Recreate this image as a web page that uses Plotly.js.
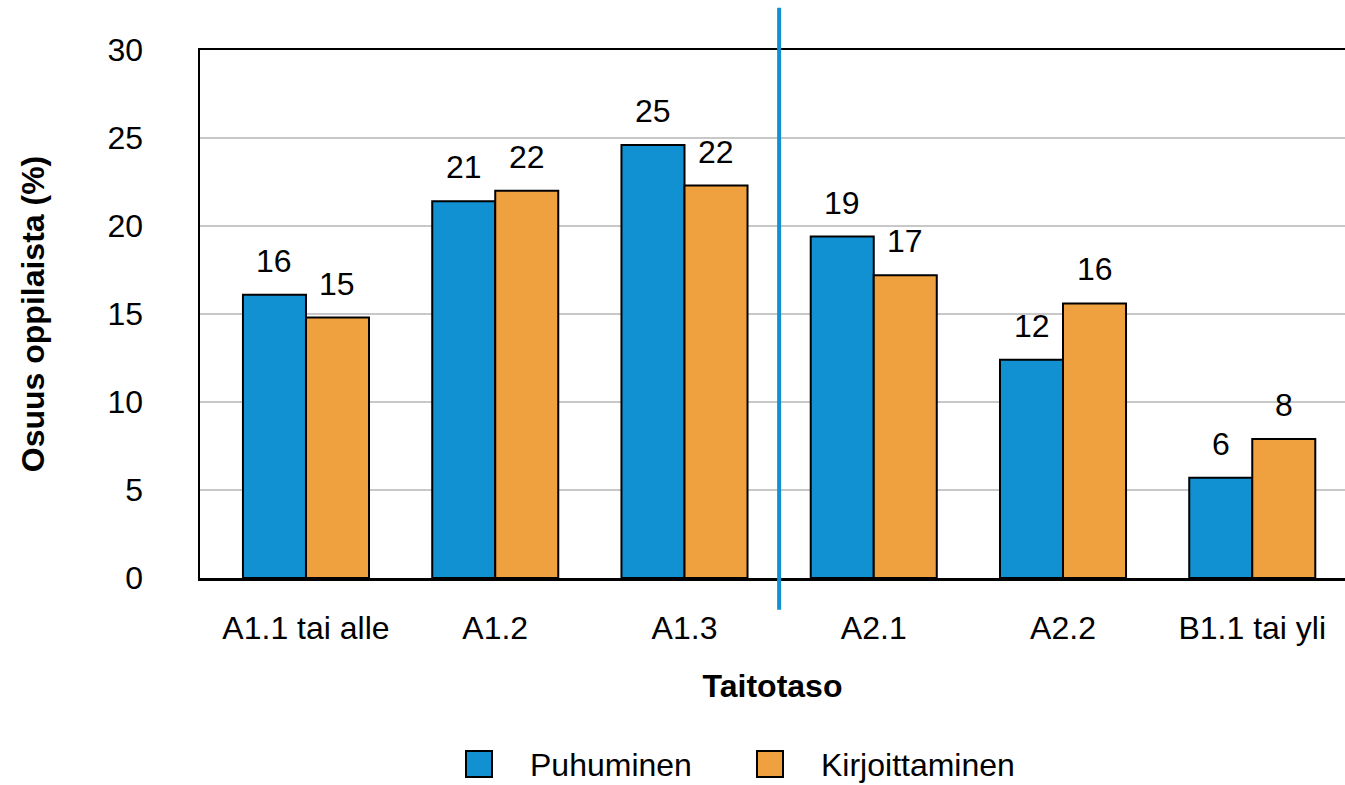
<!DOCTYPE html>
<html>
<head>
<meta charset="utf-8">
<script src="https://cdn.plot.ly/plotly-3.0.1.min.js"></script>
<style>html,body{margin:0;padding:0;background:#fff;}#chart{width:1345px;height:785px;}</style>
</head>
<body>
<div id="chart"></div>
<script>
const categories = ["A1.1 tai alle", "A1.2", "A1.3", "A2.1", "A2.2", "B1.1 tai yli"];
const seriesNames = ["Puhuminen", "Kirjoittaminen"];
const puhuminen = [16.1, 21.4, 24.6, 19.4, 12.4, 5.7];
const kirjoittaminen = [14.8, 22.0, 22.3, 17.2, 15.6, 7.9];
const yTicks = [0, 5, 10, 15, 20, 25, 30];
const dividerPosition = 2.5; // between A1.3 and A2.1

const colors = ["#1191D1", "#F0A13F"];
const FONT = "'Liberation Sans', Arial, sans-serif";

const seriesValues = [puhuminen, kirjoittaminen];
const traces = seriesValues.map((vals, i) => ({
  type: "bar",
  name: seriesNames[i],
  x: categories,
  y: vals,
  marker: {color: colors[i], line: {color: "#000", width: 2}},
  showlegend: false,
  hoverinfo: "x+y"
}));

const annotations = [];
seriesValues.forEach((vals, i) => {
  vals.forEach((v, j) => {
    annotations.push({
      x: categories[j], y: v, xref: "x", yref: "y",
      text: String(Math.round(v)),
      showarrow: false, yanchor: "bottom", xanchor: "center",
      xshift: (i === 0 ? -31.5 : 31.5), yshift: 14,
      font: {family: FONT, size: 32, color: "#000"}
    });
  });
});

// custom legend (large squares)
const legendX = [466, 757];
const shapes = [{
  type: "line", xref: "x", yref: "paper",
  x0: dividerPosition, x1: dividerPosition, y0: -0.06, y1: 1.08,
  line: {color: "#1191D1", width: 4}
}];
seriesNames.forEach((name, i) => {
  shapes.push({
    type: "rect", xref: "paper", yref: "paper",
    x0: (legendX[i] - 200) / 1145, x1: (legendX[i] + 26 - 200) / 1145,
    y0: -(764 - 578 + 13) / 528, y1: -(764 - 578 - 13) / 528,
    fillcolor: colors[i], line: {color: "#000", width: 2}
  });
  annotations.push({
    xref: "paper", yref: "paper",
    x: (legendX[i] + 62 - 200) / 1145, y: -(765 - 578) / 528,
    xanchor: "left", yanchor: "middle", showarrow: false,
    text: name, font: {family: FONT, size: 32, color: "#000"}
  });
});

const layout = {
  width: 1345, height: 785,
  margin: {l: 200, r: 0, t: 50, b: 207},
  paper_bgcolor: "#fff", plot_bgcolor: "#fff",
  font: {family: FONT, size: 32, color: "#000"},
  barmode: "group", bargap: 0.334, bargroupgap: 0,
  xaxis: {
    type: "category",
    range: [-0.56, 5.49],
    showline: true, linecolor: "#000", linewidth: 2.5, mirror: true,
    showgrid: false, ticks: "", ticklabelstandoff: 20,
    tickfont: {family: FONT, size: 32, color: "#000"},
    title: {text: "<b>Taitotaso</b>", font: {family: FONT, size: 32, color: "#000"}, standoff: 30}
  },
  yaxis: {
    range: [0, 30], tickvals: yTicks, ticktext: yTicks.map(String),
    showline: true, linecolor: "#000", linewidth: 2.5,
    showgrid: true, gridcolor: "#C8C8C8", gridwidth: 2,
    zeroline: false, ticks: "", ticklabelstandoff: 48,
    tickfont: {family: FONT, size: 32, color: "#000"},
    title: {text: "<b>Osuus oppilaista (%)</b>", font: {family: FONT, size: 32, color: "#000"}, standoff: 54}
  },
  shapes: shapes,
  annotations: annotations,
  showlegend: false
};

Plotly.newPlot("chart", traces, layout, {displayModeBar: false, staticPlot: true});
</script>
</body>
</html>
